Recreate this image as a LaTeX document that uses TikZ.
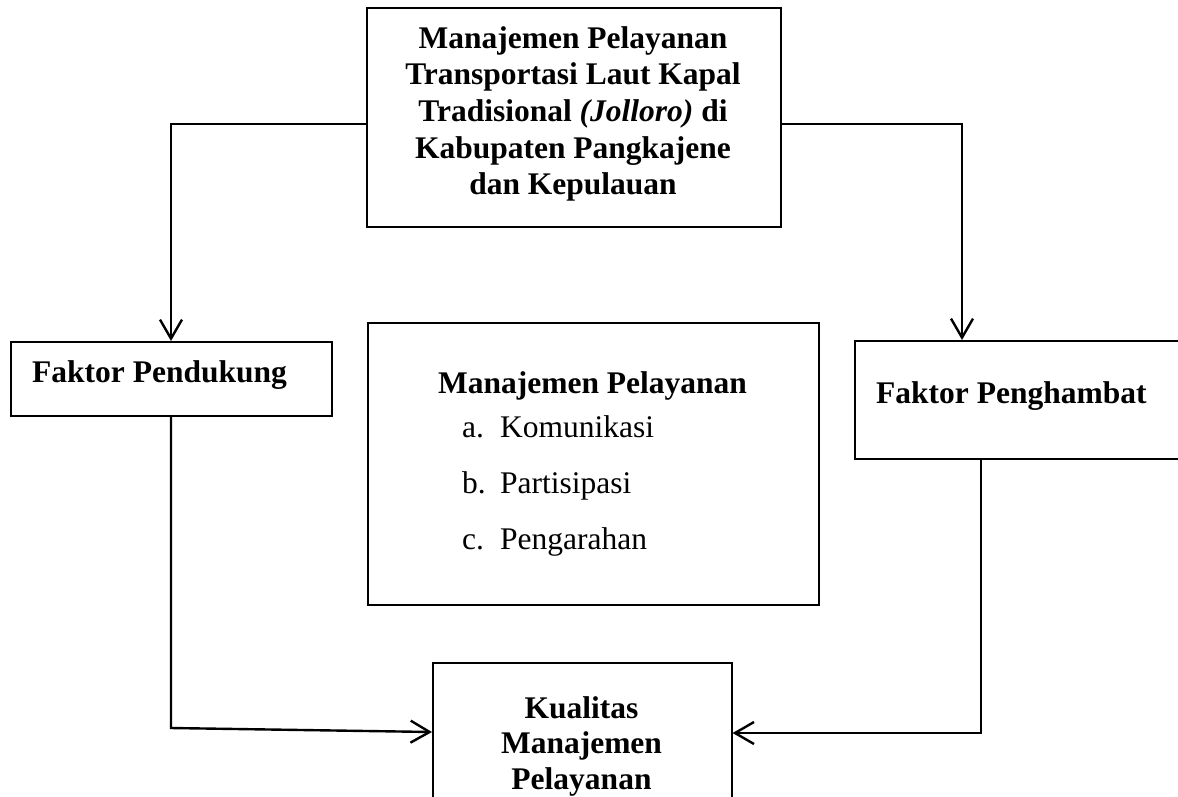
\documentclass[tikz,border=0pt]{standalone}
\usepackage{fontspec}
\setmainfont{Liberation Serif}
\usetikzlibrary{arrows.meta}
\begin{document}
\begin{tikzpicture}[x=1pt,y=-1pt,
  box/.style={draw,line width=1.6pt,inner sep=0pt,anchor=north west},
  lbl/.style={inner sep=0pt,font=\fontsize{31.5}{36.6}\selectfont\bfseries},
  itm/.style={inner sep=0pt,anchor=base west,font=\fontsize{31.5}{36.6}\selectfont},
  conn/.style={line width=2.4pt},
  arr/.style={conn,-{Straight Barb[length=19pt,width=22pt]}}]
\useasboundingbox (0,0) rectangle (1178,796);
\clip (0,0) rectangle (1178,796);
% boxes
\node[box,minimum width=414pt,minimum height=219pt] (top) at (366,7) {};
\node[box,minimum width=451pt,minimum height=282pt] (mid) at (367,322) {};
\node[box,minimum width=321pt,minimum height=74pt] (lb) at (10,341) {};
\node[box,minimum width=350pt,minimum height=118pt] (rb) at (854,340) {};
\node[box,minimum width=299pt,minimum height=160pt] (bot) at (432,662) {};
% texts
\node[lbl,align=center] (toptxt) at (573,114) {Manajemen Pelayanan\\Transportasi Laut Kapal\\Tradisional \textit{(Jolloro)} di\\Kabupaten Pangkajene\\dan Kepulauan};
\node[lbl,anchor=base] (midtitle) at (592.5,393) {Manajemen Pelayanan};
\node[itm] (ia) at (462,437) {\makebox[38pt][l]{a.}Komunikasi};
\node[itm] (ib) at (462,493) {\makebox[38pt][l]{b.}Partisipasi};
\node[itm] (ic) at (462,549) {\makebox[38pt][l]{c.}Pengarahan};
\node[lbl,anchor=base west] (lbtxt) at (32,382) {Faktor Pendukung};
\node[lbl,anchor=base west] (rbtxt) at (876,403) {Faktor Penghambat};
\node[lbl,align=center,anchor=north,font=\fontsize{31.5}{35.5}\selectfont\bfseries] (bottxt) at (581.5,696) {Kualitas\\Manajemen\\Pelayanan};
% connectors
\coordinate (l1) at (171,124);
\coordinate (r1) at (962,124);
\coordinate (l2) at (171,728);
\coordinate (la) at (0,732);
\coordinate (r2) at (981,733);
\draw[arr] (top.west |- l1) -- (l1) -- (l1 |- lb.north);
\draw[arr] (top.east |- r1) -- (r1) -- (r1 |- rb.north);
\draw[arr] (l2 |- lb.south) -- (l2) -- (bot.west |- la);
\draw[arr] (r2 |- rb.south) -- (r2) -- (bot.east |- r2);
\end{tikzpicture}
\end{document}
